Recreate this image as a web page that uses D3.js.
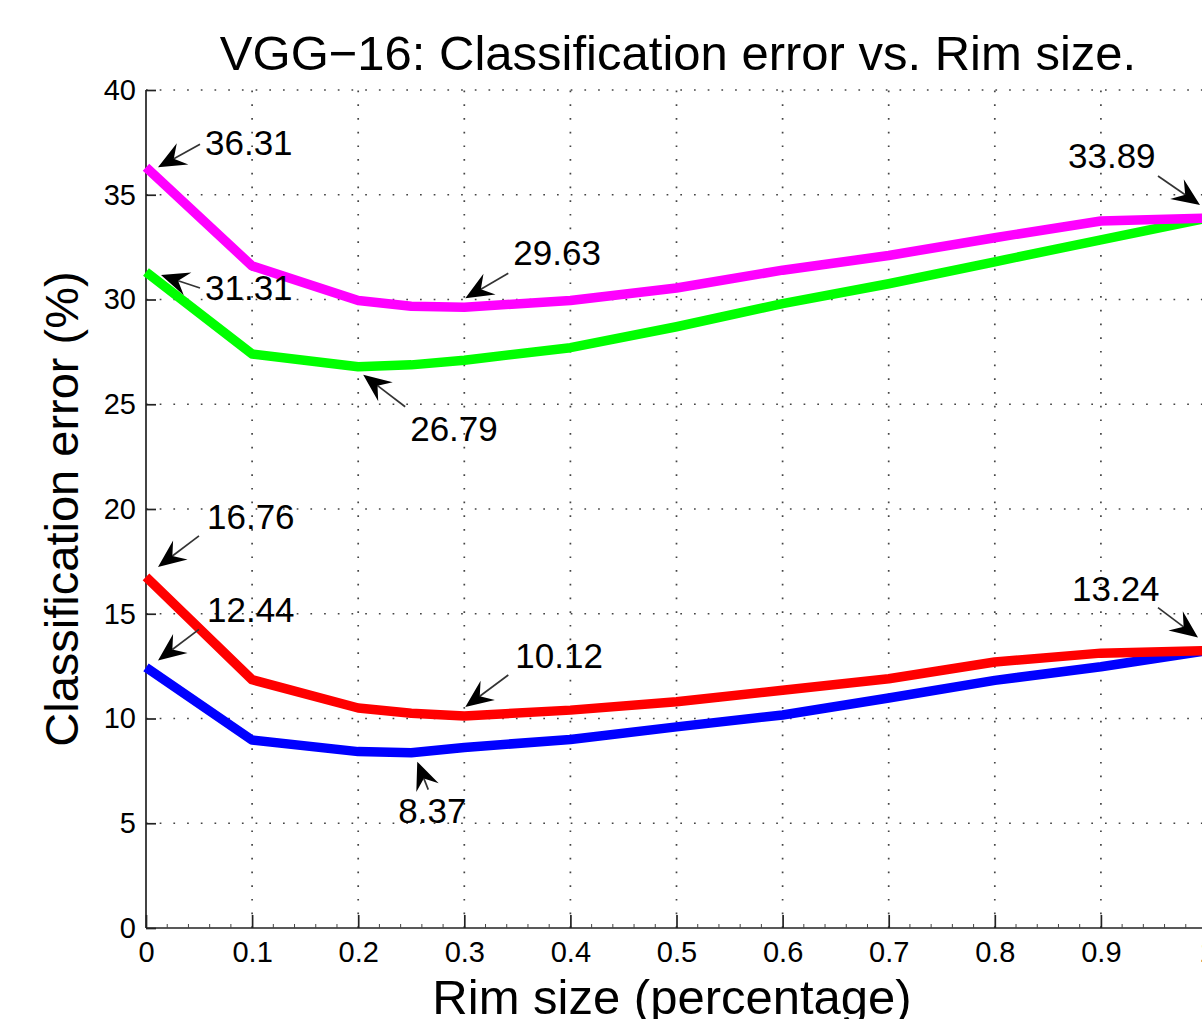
<!DOCTYPE html>
<html>
<head>
<meta charset="utf-8">
<script src="https://cdn.jsdelivr.net/npm/d3@7"></script>
<style>
  html, body { margin: 0; padding: 0; background: #fff; overflow: hidden; }
  svg { display: block; }
  text { font-family: "Liberation Sans", Arial, Helvetica, sans-serif; fill: #000; }
</style>
</head>
<body>
<svg id="chart" width="1202" height="1019"></svg>
<script>
// ---------------- data ----------------
const rimSizes = [0, 0.1, 0.2, 0.25, 0.3, 0.4, 0.5, 0.6, 0.7, 0.8, 0.9, 1.0];
const magentaSeries = [36.31, 31.6, 29.95, 29.68, 29.63, 29.95, 30.55, 31.4, 32.1, 32.95, 33.75, 33.89];
const greenSeries   = [31.31, 27.4, 26.79, 26.88, 27.1, 27.7, 28.7, 29.8, 30.75, 31.8, 32.85, 33.89];
const redSeries     = [16.76, 11.85, 10.5, 10.25, 10.12, 10.4, 10.8, 11.35, 11.9, 12.7, 13.12, 13.24];
const blueSeries    = [12.44, 8.97, 8.42, 8.37, 8.62, 9.0, 9.6, 10.17, 10.98, 11.82, 12.47, 13.24];
const seriesList    = [blueSeries, redSeries, greenSeries, magentaSeries];
const seriesColors  = ["#0000ff", "#ff0000", "#00ff00", "#ff00ff"];

const xTicks = [0, 0.1, 0.2, 0.3, 0.4, 0.5, 0.6, 0.7, 0.8, 0.9, 1];
const xTickLabels = ["0", "0.1", "0.2", "0.3", "0.4", "0.5", "0.6", "0.7", "0.8", "0.9", "1"];
const yTicks = [0, 5, 10, 15, 20, 25, 30, 35, 40];

// annotations: data point (x, value) and label
const annotX      = [0, 0, 0.3, 0.2, 1.0, 0, 0, 0.3, 0.25, 1.0];
const annotValues = [36.31, 31.31, 29.63, 26.79, 33.89, 16.76, 12.44, 10.12, 8.37, 13.24];
const annotLabels = ["36.31", "31.31", "29.63", "26.79", "33.89", "16.76", "12.44", "10.12", "8.37", "13.24"];

const titleText = "VGG\u221216: Classification error vs. Rim size.";
const xLabelText = "Rim size (percentage)";
const yLabelText = "Classification error (%)";

// ---------------- layout ----------------
// pixel offsets (arrow tip, arrow tail, text anchor) relative to the annotated data point
const annotLayout = [
  {tip:[12,0],   tail:[54,-23],  text:[59,-12]},
  {tip:[15,3],   tail:[54,16],   text:[59,28]},
  {tip:[1,-9],   tail:[44,-34],  text:[49,-42]},
  {tip:[5,8],    tail:[47,40],   text:[52,74]},
  {tip:[-7,-13], tail:[-49,-42], text:[-139,-50]},
  {tip:[12,-10], tail:[53,-41],  text:[61,-48]},
  {tip:[12,-7],  tail:[53,-38],  text:[61,-45]},
  {tip:[1,-9],   tail:[44,-41],  text:[51,-48]},
  {tip:[6,9],    tail:[17,37],   text:[-13,70]},
  {tip:[-9,-13], tail:[-49,-43], text:[-135,-50]}
];

const plot = {left: 146, right: 1207, top: 90, bottom: 928};

const svg = d3.select("#chart");
const x = d3.scaleLinear().domain([0, 1]).range([plot.left, plot.right]);
const y = d3.scaleLinear().domain([0, 40]).range([plot.bottom, plot.top]);

// grid (dotted)
const grid = svg.append("g").attr("class", "grid");
grid.selectAll("line.gx").data(xTicks.filter(d => d > 0)).enter().append("line")
  .attr("x1", d => x(d)).attr("x2", d => x(d))
  .attr("y1", y(0)).attr("y2", y(40))
  .attr("stroke", "#444").attr("stroke-width", 1.7)
  .attr("stroke-dasharray", "1.7,12");
grid.selectAll("line.gy").data(yTicks.filter(d => d > 0)).enter().append("line")
  .attr("x1", x(0)).attr("x2", x(1))
  .attr("y1", d => y(d)).attr("y2", d => y(d))
  .attr("stroke", "#444").attr("stroke-width", 1.7)
  .attr("stroke-dasharray", "1.7,12");

// axes
const xAxis = d3.axisBottom(x).tickValues(xTicks)
  .tickFormat((d, i) => xTickLabels[i]).tickSize(-13).tickPadding(13);
const gx = svg.append("g").attr("transform", `translate(0,${plot.bottom})`).call(xAxis);
gx.select(".domain").attr("stroke", "#222").attr("stroke-width", 1.7)
  .attr("d", `M${plot.left},0H${plot.right}`);
gx.selectAll(".tick line").attr("stroke", "#222").attr("stroke-width", 1.7);
gx.selectAll(".tick text").attr("font-size", 29).attr("font-family", "Liberation Sans, Arial, sans-serif")
  .attr("fill", "#000");

// minor x ticks
const minorX = d3.range(0, 1.0001, 0.02).filter(v => Math.abs(v * 10 - Math.round(v * 10)) > 1e-6);
svg.append("g").selectAll("line").data(minorX).enter().append("line")
  .attr("x1", d => x(d)).attr("x2", d => x(d))
  .attr("y1", plot.bottom).attr("y2", plot.bottom - 4)
  .attr("stroke", "#444").attr("stroke-width", 1);

const yAxis = d3.axisLeft(y).tickValues(yTicks).tickFormat(d3.format("d"))
  .tickSize(-10).tickPadding(10);
const gy = svg.append("g").attr("transform", `translate(${plot.left},0)`).call(yAxis);
gy.select(".domain").attr("stroke", "#222").attr("stroke-width", 1.7)
  .attr("d", `M0,${plot.bottom}V${plot.top}`);
gy.selectAll(".tick line").attr("stroke", "#222").attr("stroke-width", 1.7);
gy.selectAll(".tick text").attr("font-size", 29).attr("font-family", "Liberation Sans, Arial, sans-serif")
  .attr("fill", "#000");

// series lines
const line = d3.line().x((d, i) => x(rimSizes[i])).y(d => y(d));
svg.append("g").selectAll("path").data(seriesList).enter().append("path")
  .attr("d", d => line(d))
  .attr("fill", "none")
  .attr("stroke", (d, i) => seriesColors[i])
  .attr("stroke-width", 9.5)
  .attr("stroke-linejoin", "round");

// annotations
const ag = svg.append("g").attr("class", "annotations");
annotValues.forEach((v, i) => {
  const px = x(annotX[i]), py = y(v);
  const L = annotLayout[i];
  const tip = [px + L.tip[0], py + L.tip[1]];
  const tail = [px + L.tail[0], py + L.tail[1]];
  const dx = tip[0] - tail[0], dy = tip[1] - tail[1];
  const len = Math.hypot(dx, dy);
  const ux = dx / len, uy = dy / len;
  const nx = -uy, ny = ux;
  const hl = 28, hw = 12, notch = 18;
  const back = [tip[0] - ux * hl, tip[1] - uy * hl];
  const c1 = [back[0] + nx * hw, back[1] + ny * hw];
  const c2 = [back[0] - nx * hw, back[1] - ny * hw];
  const nb = [tip[0] - ux * notch, tip[1] - uy * notch];
  ag.append("line")
    .attr("x1", tail[0]).attr("y1", tail[1])
    .attr("x2", nb[0]).attr("y2", nb[1])
    .attr("stroke", "#333").attr("stroke-width", 1.7);
  ag.append("path")
    .attr("d", `M${tip[0]},${tip[1]}L${c1[0]},${c1[1]}L${nb[0]},${nb[1]}L${c2[0]},${c2[1]}Z`)
    .attr("fill", "#000");
  ag.append("text")
    .attr("x", px + L.text[0]).attr("y", py + L.text[1])
    .attr("font-size", 35)
    .text(annotLabels[i]);
});

// title and axis labels
svg.append("text")
  .attr("x", 678).attr("y", 70)
  .attr("text-anchor", "middle")
  .attr("font-size", 49)
  .text(titleText);

svg.append("text")
  .attr("x", 672).attr("y", 1014)
  .attr("text-anchor", "middle")
  .attr("font-size", 49)
  .text(xLabelText);

svg.append("text")
  .attr("transform", `translate(78,${(plot.top + plot.bottom) / 2}) rotate(-90)`)
  .attr("text-anchor", "middle")
  .attr("font-size", 47)
  .text(yLabelText);
</script>
</body>
</html>
